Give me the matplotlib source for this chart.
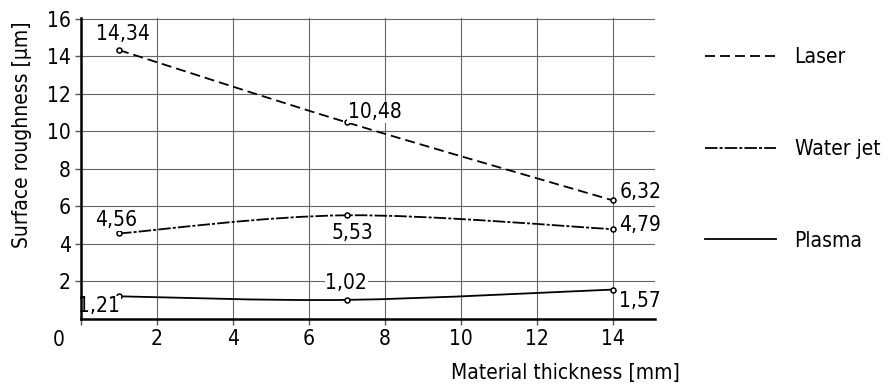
import matplotlib
matplotlib.use("Agg")
import matplotlib.pyplot as plt
from matplotlib.path import Path
from matplotlib.patches import PathPatch
from matplotlib.lines import Line2D

plt.rcParams["font.family"] = ["DejaVu Sans"]
plt.rcParams["font.stretch"] = "condensed"
plt.rcParams["lines.scale_dashes"] = False

thickness = [1, 7, 14]
laser = [14.34, 10.48, 6.32]
water_jet = [4.56, 5.53, 4.79]
plasma = [1.21, 1.02, 1.57]
labels = ["Laser", "Water jet", "Plasma"]
x_ticks = [0, 2, 4, 6, 8, 10, 12, 14]
y_ticks = [2, 4, 6, 8, 10, 12, 14, 16]

# label offsets (pixels) for each point of each series
laser_off = [((4, 16), "center"), ((1, 10), "left"), ((6, 8), "left")]
water_off = [((-3, 13), "center"), ((5, -18), "center"), ((6, 4), "left")]
plasma_off = [((-20, -10), "center"), ((-1, 17), "center"), ((6, -11), "left")]


def smooth_path(xs, ys):
    # excel-like smoothed line (catmull-rom as bezier)
    pts = list(zip(xs, ys))
    n = len(pts)
    verts = [pts[0]]
    codes = [Path.MOVETO]
    for i in range(n - 1):
        p0 = pts[max(i - 1, 0)]
        p1 = pts[i]
        p2 = pts[i + 1]
        p3 = pts[min(i + 2, n - 1)]
        c1 = (p1[0] + (p2[0] - p0[0]) / 6, p1[1] + (p2[1] - p0[1]) / 6)
        c2 = (p2[0] - (p3[0] - p1[0]) / 6, p2[1] - (p3[1] - p1[1]) / 6)
        verts += [c1, c2, p2]
        codes += [Path.CURVE4] * 3
    return Path(verts, codes)


fig = plt.figure(figsize=(8.92, 3.85), dpi=100)
ax = fig.add_axes([81 / 892, 1 - 319 / 385, 574 / 892, 301 / 385])

styles = [
    (0, (7.2, 3.6)),
    (0, (9, 1.5, 2.2, 1.5)),
    "solid",
]
series = [laser, water_jet, plasma]
offsets = [laser_off, water_off, plasma_off]

for vals, ls, offs in zip(series, styles, offsets):
    patch = PathPatch(smooth_path(thickness, vals), fill=False, lw=1.3,
                      ls=ls, edgecolor="black", zorder=3)
    ax.add_patch(patch)
    ax.plot(thickness, vals, "o", ms=3.6, mfc="white", mec="black",
            mew=1.1, zorder=4)
    for xv, yv, (off, ha) in zip(thickness, vals, offs):
        ax.annotate(f"{yv:.2f}".replace(".", ","), xy=(xv, yv),
                    xytext=off, textcoords="offset pixels", ha=ha,
                    va="center", fontsize=15, zorder=5,
                    bbox=dict(fc="white", ec="none", pad=0.5))

ax.set_xlim(0, 15.1)
ax.set_ylim(0, 16.05)
ax.set_xticks(x_ticks)
ax.set_xticklabels([""] + [str(t) for t in x_ticks[1:]])
ax.set_yticks(y_ticks)
ax.tick_params(labelsize=15, direction="out", length=4, width=1,
               color="#555555")
ax.grid(True, color="#666666", lw=0.8)
ax.set_axisbelow(True)
for s in ["top", "right"]:
    ax.spines[s].set_visible(False)
for s in ["left", "bottom"]:
    ax.spines[s].set_linewidth(1.8)
    ax.spines[s].set_zorder(6)

ax.annotate("0", xy=(0, 0), xytext=(-22, -21), textcoords="offset pixels",
            ha="center", va="center", fontsize=15)
ax.set_ylabel("Surface roughness [µm]", fontsize=15)
ax.yaxis.set_label_coords(-0.0854, 0.611)
ax.set_xlabel("Material thickness [mm]", fontsize=15, loc="right")
ax.xaxis.set_label_coords(1.0436, -0.146)

handles = [Line2D([], [], color="black", lw=1.3, ls=ls) for ls in styles]
fig.legend(handles, labels, loc="upper left",
           bbox_to_anchor=(705 / 892, 1 - 47 / 385), frameon=False,
           fontsize=15, handlelength=3.4, handletextpad=0.9,
           labelspacing=3.45, borderpad=0, borderaxespad=0)

fig.savefig("out.png", dpi=100)
